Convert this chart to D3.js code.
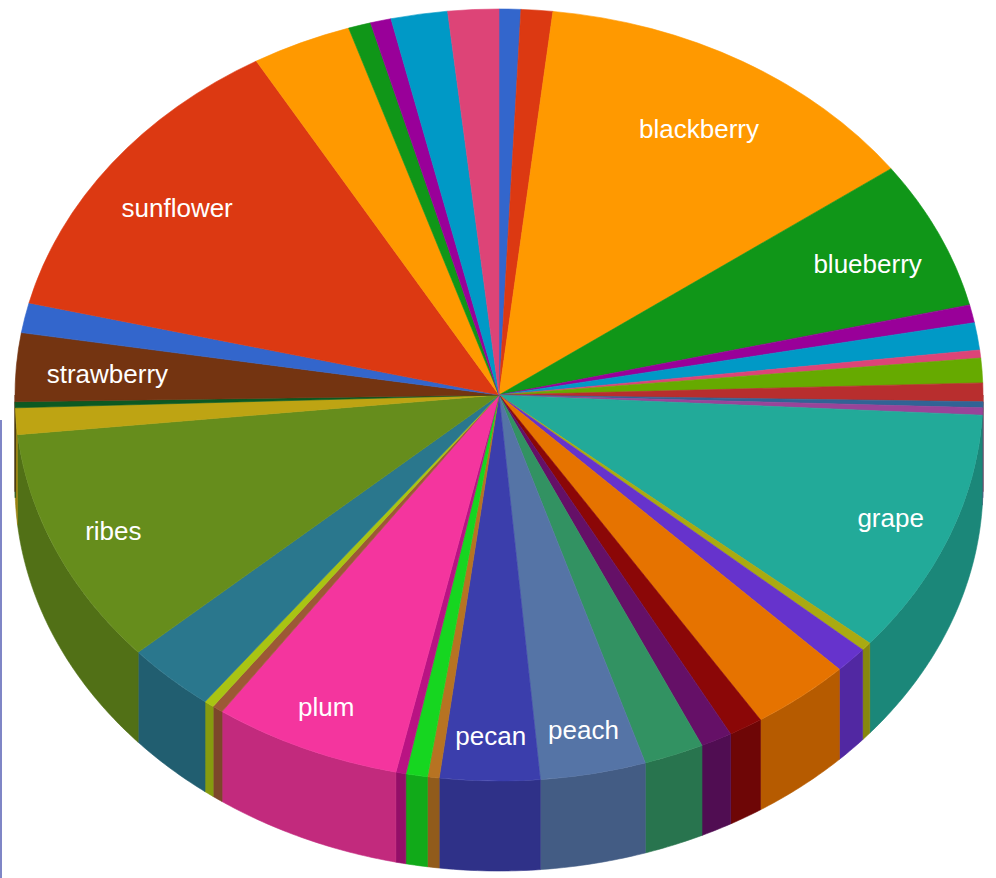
<!DOCTYPE html>
<html>
<head>
<meta charset="utf-8">
<script src="https://cdn.jsdelivr.net/npm/d3@7"></script>
<style>
  body { margin: 0; background: #fff; }
  svg { display: block; }
</style>
</head>
<body>
<div id="pie-chart"></div>
<script>
// slice values, clockwise from 12 o'clock
const values = [2.6, 3.8, 47.7, 22.4, 2.7, 4.1, 1.2, 3.7, 2.8, 0.9, 1.1, 37.0, 1.3, 4.0, 12.0, 4.1, 3.8, 7.2, 12.7, 12.0,
  1.4, 2.6, 1.2, 22.6, 1.3, 1.2, 10.8, 35.9, 4.0, 0.9, 10.3, 4.5, 46.1, 12.0, 2.7, 2.5, 6.8, 6.1]

// only the slices with visible text have a label
const labels = ['', '', 'blackberry', 'blueberry', '', '', '', '', '', '', '', 'grape', '', '', '', '', '', '', 'peach', 'pecan',
  '', '', '', 'plum', '', '', '', 'ribes', '', '', 'strawberry', '', 'sunflower', '', '', '', '', '']

// default google-ish palette, repeats after 31
const palette = ['#3366cc', '#dc3912', '#ff9900', '#109618', '#990099', '#0099c6', '#dd4477', '#66aa00', '#b82e2e', '#316395',
  '#994499', '#22aa99', '#aaaa11', '#6633cc', '#e67300', '#8b0707', '#651067', '#329262', '#5574a6', '#3b3eac',
  '#b77322', '#16d620', '#b91383', '#f4359e', '#9c5935', '#a9c413', '#2a778d', '#668d1c', '#bea413', '#0c5922', '#743411']

const width = 996
const height = 878
const cx = 499
const cy = 395
const rx = 484
const ry = 386
const depth = 90

const svg = d3
  .select('#pie-chart')
  .append('svg')
  .attr('width', width)
  .attr('height', height)

// thin line on the left edge of the picture
svg.append('rect')
  .attr('x', 0)
  .attr('y', 420)
  .attr('width', 2)
  .attr('height', height - 420)
  .attr('fill', '#7f86c6')

const colorScale = d3.scaleOrdinal().domain(d3.range(values.length)).range(palette)

const pie = d3.pie().sort(null).value(d => d.value)
const slices = pie(values.map((v, i) => ({ value: v, label: labels[i], index: i })))

// point on the ellipse, angle 0 at top, clockwise
function rim(a, dy) {
  return [cx + rx * Math.sin(a), cy - ry * Math.cos(a) + (dy || 0)]
}

// side walls, only the front half is visible
const line = d3.line()
svg.append('g')
  .selectAll('path')
  .data(slices.filter(d => Math.min(d.endAngle, 1.5 * Math.PI) > Math.max(d.startAngle, 0.5 * Math.PI)))
  .enter()
  .append('path')
  .attr('d', d => {
    const a = Math.max(d.startAngle, 0.5 * Math.PI)
    const b = Math.min(d.endAngle, 1.5 * Math.PI)
    const n = Math.max(2, Math.ceil((b - a) / 0.01))
    const top = d3.range(n + 1).map(k => rim(a + (b - a) * k / n))
    const bottom = d3.range(n + 1).map(k => rim(b - (b - a) * k / n, depth))
    return line(top.concat(bottom)) + 'Z'
  })
  .attr('fill', d => d3.color(colorScale(d.data.index)).darker(0.65))
  .attr('stroke', d => d3.color(colorScale(d.data.index)).darker(0.65))
  .attr('stroke-width', 0.6)

// top faces: a circular arc squashed into the ellipse
const arc = d3.arc().innerRadius(0).outerRadius(rx)
svg.append('g')
  .attr('transform', 'translate(' + cx + ',' + cy + ') scale(1,' + (ry / rx) + ')')
  .selectAll('path')
  .data(slices)
  .enter()
  .append('path')
  .attr('d', arc)
  .attr('fill', d => colorScale(d.data.index))
  .attr('stroke', d => colorScale(d.data.index))
  .attr('stroke-width', 0.6)
  .attr('vector-effect', 'non-scaling-stroke')

// labels at the middle of each slice, kept inside the rim
const labelPos = d => {
  const m = (d.startAngle + d.endAngle) / 2
  const f = 0.855 - 0.04 * Math.cos(m)
  return [cx + f * rx * Math.sin(m), cy - f * ry * Math.cos(m) + 2 + 6 * Math.cos(m)]
}

svg.append('g')
  .selectAll('text')
  .data(slices.filter(d => d.data.label !== ''))
  .enter()
  .append('text')
  .attr('y', d => labelPos(d)[1])
  .attr('text-anchor', 'middle')
  .attr('dominant-baseline', 'central')
  .attr('font-family', '"Liberation Sans", Arial, sans-serif')
  .attr('font-size', 26)
  .attr('fill', '#ffffff')
  .text(d => d.data.label)
  .attr('x', function(d) {
    const p = labelPos(d)
    const half = this.getComputedTextLength() / 2
    const reach = rx * Math.sqrt(Math.max(0, 1 - Math.pow((p[1] - cy) / ry, 2)))
    const pad = 31
    return Math.max(cx - reach + pad + half, Math.min(cx + reach - pad - half, p[0]))
  })
</script>
</body>
</html>
